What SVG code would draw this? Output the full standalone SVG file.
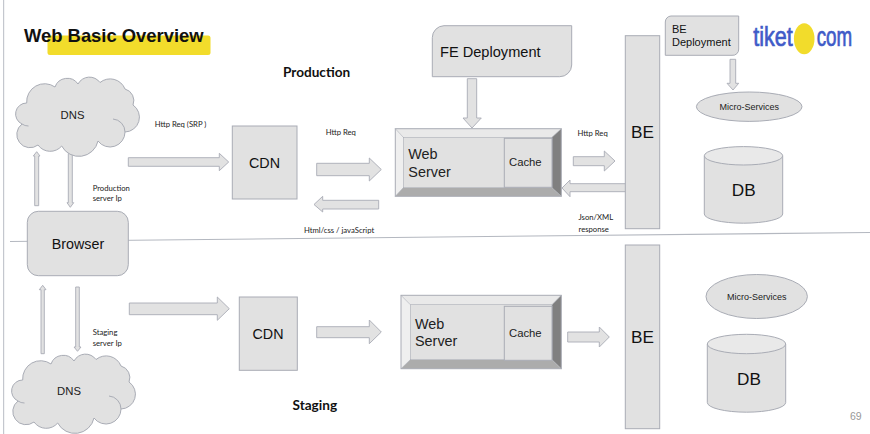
<svg xmlns="http://www.w3.org/2000/svg" xmlns:xlink="http://www.w3.org/1999/xlink" width="870" height="434" viewBox="0 0 870 434">
<style>
text{font-family:"Liberation Sans",Arial,sans-serif;fill:#111}
.s{fill:#e1e1e1;stroke:#a9acb5;stroke-width:1}
.a{fill:#e2e2e2;stroke:#a9acb5;stroke-width:.9}
.l{font-family:Lato,"Open Sans",sans-serif;font-size:7.7px;fill:#222}
.h{font-family:Lato,"Open Sans",sans-serif;font-weight:700;font-size:13.6px;fill:#111}
.b{font-size:14.3px}
.big{font-size:17.2px;text-anchor:middle}
.m{font-size:9px;text-anchor:middle;fill:#222}
.c{font-size:11.3px;fill:#222}
.w{font-size:14.4px;fill:#222}
.top{fill:#e9e9e9;stroke:#a9acb5}
.logo{font-size:27px;fill:#3f5bc8;stroke:#3f5bc8;stroke-width:.7}
</style>
<defs>
<path id="cloud" d="M22,124 A11,11 0 0 1 26.700,103 A18,18 0 0 1 55,87 A13,13 0 0 1 78,84 A13,13 0 0 1 100,82.500 A16,16 0 0 1 125,89 A12,12 0 0 1 133,105 A14.800,14.800 0 0 1 125,132 A15,15 0 0 1 98,141 A19.500,19.500 0 0 1 61.700,146 A15,15 0 0 1 38,145 A12,12 0 0 1 22,124 Z M113,119 A13,13 0 0 1 125,132 M22,124 Q25,126 28.500,126"/>
</defs>
<rect x="3" y="0" width="1.2" height="434" fill="#c4c7ce"/>
<line x1="10" y1="241.5" x2="870" y2="232.5" stroke="#b4b8c0" stroke-width="1.1"/>

<g id="title">
<rect x="47.5" y="35.5" width="163" height="19.5" rx="2.5" fill="#f2dc2b"/>
<text x="24" y="41.5" font-size="18.4" font-weight="700" fill="#000">Web Basic Overview</text>
</g>
<g id="label-production"><text class="h" x="283" y="77">Production</text></g>
<g id="label-staging"><text class="h" x="292.500" y="409.500">Staging</text></g>

<g id="connectors">
<polygon class="a" points="128.300,157.700 219.300,157.700 219.300,153.300 228.700,162 219.300,170.700 219.300,166.300 128.300,166.300"/>
<polygon class="a" points="316.700,163.300 369.300,163.300 369.300,158 381.300,169.500 369.300,181 369.300,175.700 316.700,175.700"/>
<polygon class="a" points="378.700,200.300 322.700,200.300 322.700,196.300 314,204.500 322.700,212 322.700,209 378.700,209"/>
<polygon class="a" points="467.300,78.700 476.700,78.700 476.700,118 481.300,118 472,128 463,118 467.300,118"/>
<polygon class="a" points="573.300,156.700 604.300,156.700 604.300,151 615,161 604.300,171 604.300,165.700 573.300,165.700"/>
<polygon class="a" points="626.700,183.700 570,183.700 570,180 562,188 570,196.700 570,191.700 626.700,191.700"/>
<polygon class="a" points="730,59.300 735.700,59.300 735.700,83.300 738.700,83.300 733,90 727,83.300 730,83.300"/>
<polygon class="a" points="34.700,205.700 34.700,156 33.300,156 36.700,151.700 40,156 38.700,156 38.700,205.700"/>
<polygon class="a" points="68.300,153.300 72.300,153.300 72.300,202.700 73.700,202.700 70.300,207.300 67,202.700 68.300,202.700"/>
<polygon class="a" points="41,353.700 41,289.700 39.300,289.700 42.700,285.300 46,289.700 44.300,289.700 44.300,353.700"/>
<polygon class="a" points="75.700,287 79.300,287 79.300,347 81,347 77.500,351.300 74,347 75.700,347"/>
<polygon class="a" points="129.300,303 217.300,303 217.300,297 229.300,308.700 217.300,320.300 217.300,314.700 129.300,314.700"/>
<polygon class="a" points="316.700,326.700 369.300,326.700 369.300,320 381.300,332 369.300,343.700 369.300,337.700 316.700,337.700"/>
<polygon class="a" points="567.700,332 599.300,332 599.300,327 609.300,337 599.300,347 599.300,342 567.700,342"/>
</g>

<g id="labels">
<text class="l" x="154.700" y="127">Http Req (SRP )</text>
<text class="l" x="92.700" y="190.700">Production</text>
<text class="l" x="92.700" y="200.700">server Ip</text>
<text class="l" x="325.700" y="135">Http Req</text>
<text class="l" x="577.500" y="136">Http Req</text>
<text class="l" x="578.500" y="220">Json/XML</text>
<text class="l" x="578.500" y="231.700">response</text>
<text class="l" x="304" y="232.700">Html/css / javaScript</text>
<text class="l" x="92.700" y="335.300">Staging</text>
<text class="l" x="92.700" y="346">server Ip</text>
</g>

<g id="dns-prod"><use xlink:href="#cloud" href="#cloud" class="s"/><text class="c" x="72.500" y="119" text-anchor="middle">DNS</text></g>
<g id="cdn-prod"><rect class="s" x="232.300" y="126" width="64.700" height="73"/><text class="big" style="font-size:14.300px" x="264.500" y="167.700">CDN</text></g>
<g id="fe-deployment"><path class="s" d="M444,25.700 H571.700 V65 A12,12 0 0 1 559.700,76.700 H432.300 V37.700 A12,12 0 0 1 444,25.700 Z"/><text x="440" y="57.300" font-size="14.600" fill="#222">FE Deployment</text></g>

<g id="web-prod">
<polygon points="395.300,128.700 561.300,128.700 552,137.300 403.300,137.300" fill="#e9e9e9"/>
<polygon points="395.300,128.700 403.300,137.300 403.300,187.700 395.300,196.300" fill="#efefef"/>
<polygon points="561.300,128.700 561.300,196.300 552,187.700 552,137.300" fill="#808080"/>
<polygon points="395.300,196.300 403.300,187.700 552,187.700 561.300,196.300" fill="#acacac"/>
<rect x="403.300" y="137.300" width="148.700" height="50.400" fill="#e1e1e1" stroke="#a9acb5" stroke-width=".6"/>
<rect x="395.300" y="128.700" width="166" height="67.600" fill="none" stroke="#a9acb5"/>
<line x1="395.300" y1="128.700" x2="403.300" y2="137.300" stroke="#a9acb5" stroke-width=".6"/><line x1="561.300" y1="128.700" x2="552" y2="137.300" stroke="#a9acb5" stroke-width=".6"/><line x1="395.300" y1="196.300" x2="403.300" y2="187.700" stroke="#a9acb5" stroke-width=".6"/><line x1="561.300" y1="196.300" x2="552" y2="187.700" stroke="#a9acb5" stroke-width=".6"/>
<text class="w" x="408.300" y="159">Web</text><text class="w" x="408.300" y="177">Server</text>
<rect class="s" x="504.300" y="138.300" width="47.700" height="49"/><text class="c" x="509" y="165.700">Cache</text>
</g>

<g id="be-prod"><rect class="s" x="625.300" y="35.700" width="34.400" height="193"/><text class="big" x="642.500" y="138">BE</text></g>
<g id="be-deployment"><path class="s" d="M671,16 H738.700 V49 A6,6 0 0 1 732,55.300 H665.300 V22 A6,6 0 0 1 671,16 Z"/><text x="672" y="32.700" font-size="11" fill="#222">BE</text><text x="672" y="45.700" font-size="11" fill="#222">Deployment</text></g>
<g id="logo">
<text class="logo" x="753.300" y="45.700" textLength="39.500" lengthAdjust="spacingAndGlyphs">tiket</text>
<ellipse cx="804.200" cy="38.800" rx="10.300" ry="15.500" fill="#f2dc2b"/>
<text class="logo" x="816.700" y="45.700" textLength="35.500" lengthAdjust="spacingAndGlyphs">com</text>
</g>
<g id="ms-prod"><ellipse class="s" cx="749.200" cy="106.700" rx="52.800" ry="14.700"/><text class="m" x="749.200" y="109.700">Micro-Services</text></g>
<g id="db-prod"><path class="s" d="M704.300,155.800 V214 A39.200,9.200 0 0 0 782.700,214 V155.800"/><ellipse class="top" cx="743.500" cy="155.800" rx="39.200" ry="9.200"/><text class="big" x="743.700" y="195.700">DB</text></g>

<g id="browser"><rect class="s" x="27.300" y="211.300" width="101" height="64.400" rx="11"/><text class="b" x="78" y="248.700" text-anchor="middle">Browser</text></g>

<g id="dns-stage"><use xlink:href="#cloud" href="#cloud" class="s" transform="translate(-4,277)"/><text class="c" x="69" y="395" text-anchor="middle">DNS</text></g>
<g id="cdn-stage"><rect class="s" x="239.300" y="297" width="58" height="73.300"/><text class="big" style="font-size:14.300px" x="268" y="338.700">CDN</text></g>
<g id="web-stage">
<polygon points="401,295.300 561.300,295.300 552,304.700 410.300,304.700" fill="#e9e9e9"/>
<polygon points="401,295.300 410.300,304.700 410.300,359.700 401,368.700" fill="#efefef"/>
<polygon points="561.300,295.300 561.300,368.700 552,359.700 552,304.700" fill="#808080"/>
<polygon points="401,368.700 410.300,359.700 552,359.700 561.300,368.700" fill="#acacac"/>
<rect x="410.300" y="304.700" width="141.700" height="55" fill="#e1e1e1" stroke="#a9acb5" stroke-width=".6"/>
<rect x="401" y="295.300" width="160.300" height="73.400" fill="none" stroke="#a9acb5"/>
<line x1="401" y1="295.300" x2="410.300" y2="304.700" stroke="#a9acb5" stroke-width=".6"/><line x1="561.300" y1="295.300" x2="552" y2="304.700" stroke="#a9acb5" stroke-width=".6"/><line x1="401" y1="368.700" x2="410.300" y2="359.700" stroke="#a9acb5" stroke-width=".6"/><line x1="561.300" y1="368.700" x2="552" y2="359.700" stroke="#a9acb5" stroke-width=".6"/>
<text class="w" x="415" y="329">Web</text><text class="w" x="415" y="346">Server</text>
<rect class="s" x="504.300" y="306.300" width="47.700" height="54"/><text class="c" x="509" y="337">Cache</text>
</g>
<g id="be-stage"><rect class="s" x="625.300" y="245" width="34.400" height="183.700"/><text class="big" x="642.500" y="343">BE</text></g>
<g id="ms-stage"><ellipse class="s" cx="756.700" cy="296.500" rx="50.700" ry="22"/><text class="m" x="756.700" y="299.700">Micro-Services</text></g>
<g id="db-stage"><path class="s" d="M707.300,344 V402.500 A39.200,9.700 0 0 0 785.700,402.500 V344"/><ellipse class="top" cx="746.500" cy="344" rx="39.200" ry="9.700"/><text class="big" x="749" y="384.700">DB</text></g>
<g id="page-number"><text x="850" y="419.700" font-size="10.500" style="fill:#999">69</text></g>
</svg>
